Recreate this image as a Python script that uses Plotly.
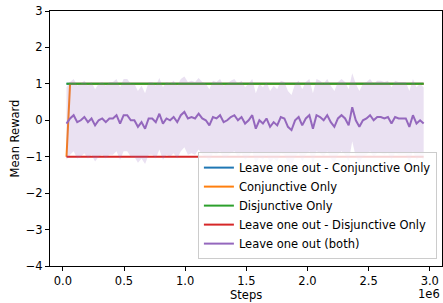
import numpy as np
import plotly.graph_objects as go

# ---- data ----
n_points = 101
steps = list(range(30000, 2950001, 29200))
loo_both_mean = [
    -0.09, 0.05, 0.14, -0.05, 0.00, 0.09, -0.05, 0.05, -0.14, 0.00,
    0.05, -0.05, 0.05, 0.05, 0.14, -0.09, 0.14, 0.14, 0.00, 0.00,
    -0.18, -0.05, -0.23, 0.05, 0.05, -0.05, 0.18, -0.09, 0.05, 0.00,
    0.09, -0.05, 0.14, 0.23, 0.05, 0.09, 0.05, 0.18, 0.05, 0.00,
    -0.14, 0.09, 0.05, 0.14, -0.05, 0.00, 0.09, 0.14, 0.00, 0.09,
    -0.09, 0.00, 0.14, -0.23, 0.00, -0.09, 0.05, -0.18, -0.05, -0.14,
    0.09, 0.05, -0.18, -0.27, 0.00, 0.09, -0.14, 0.05, 0.14, -0.23,
    0.14, 0.09, 0.00, 0.14, -0.05, -0.18, 0.05, 0.14, 0.05, -0.14,
    0.36, 0.00, -0.18, 0.00, 0.05, 0.14, 0.00, 0.09, 0.09, 0.05,
    0.09, -0.09, 0.09, 0.05, 0.05, 0.05, -0.18, 0.14, -0.09, 0.00,
    -0.09,
]
loo_conj_only = [1.0] * n_points
conj_only = [-1.0] + [1.0] * (n_points - 1)
disj_only = [1.0] * n_points
loo_disj_only = [-1.0] * n_points

series_names = [
    "Leave one out - Conjunctive Only",
    "Conjunctive Only",
    "Disjunctive Only",
    "Leave one out - Disjunctive Only",
    "Leave one out (both)",
]
colors = ["#1f77b4", "#ff7f0e", "#2ca02c", "#d62728", "#9467bd"]

x_tickvals = [0, 500000, 1000000, 1500000, 2000000, 2500000, 3000000]
x_ticktext = ["0.0", "0.5", "1.0", "1.5", "2.0", "2.5", "3.0"]
y_tickvals = [-4, -3, -2, -1, 0, 1, 2, 3]
y_ticktext = ["\u22124", "\u22123", "\u22122", "\u22121", "0", "1", "2", "3"]

# std of +/-1 rewards with given mean
m = np.array(loo_both_mean)
std = np.sqrt(1 - m ** 2)
upper = m + std
lower = m - std

FONT = "DejaVu Sans"
FS = 11.5
fig = go.Figure()

for name, vals, col in zip(series_names[:4],
                           [loo_conj_only, conj_only, disj_only, loo_disj_only],
                           colors[:4]):
    fig.add_trace(go.Scatter(x=steps, y=vals, mode="lines", name=name,
                             line=dict(color=col, width=2)))

fig.add_trace(go.Scatter(x=steps, y=lower, mode="lines", line=dict(width=0),
                         showlegend=False, hoverinfo="skip"))
fig.add_trace(go.Scatter(x=steps, y=upper, mode="lines", line=dict(width=0),
                         fill="tonexty", fillcolor="rgba(148,103,189,0.2)",
                         showlegend=False, hoverinfo="skip"))
fig.add_trace(go.Scatter(x=steps, y=loo_both_mean, mode="lines", name=series_names[4],
                         line=dict(color=colors[4], width=2)))

axis_common = dict(showline=True, mirror=True, linecolor="black", linewidth=1,
                   ticks="outside", ticklen=4, tickcolor="black", showgrid=False,
                   zeroline=False, tickfont=dict(family=FONT, size=FS, color="black"))

fig.update_layout(
    width=443, height=303,
    margin=dict(l=50, r=1, t=11, b=37, autoexpand=False),
    paper_bgcolor="white", plot_bgcolor="white",
    font=dict(family=FONT, size=FS, color="black"),
    xaxis=dict(range=[-105000, 3100000], tickvals=x_tickvals, ticktext=x_ticktext,
               **axis_common),
    yaxis=dict(range=[-4, 3], tickvals=y_tickvals, ticktext=y_ticktext,
               title=dict(text="Mean Reward", font=dict(family=FONT, size=FS), standoff=3),
               **axis_common),
    legend=dict(x=0.987, y=0.027, xanchor="right", yanchor="bottom",
                traceorder="normal",
                bgcolor="rgba(255,255,255,0.8)", bordercolor="#cccccc", borderwidth=1,
                font=dict(family=FONT, size=FS), itemwidth=30, tracegroupgap=0),
    annotations=[
        dict(text="Steps", xref="paper", yref="paper", x=0.5, y=-0.113,
             xanchor="center", yanchor="middle", showarrow=False,
             font=dict(family=FONT, size=FS)),
        dict(text="1e6", xref="paper", yref="paper", x=1.0, y=-0.109,
             xanchor="right", yanchor="middle", showarrow=False,
             font=dict(family=FONT, size=FS)),
    ],
)

fig.write_html("out.html", config={"displayModeBar": False},
               post_script="document.body.style.margin='0';document.body.style.overflow='hidden';")
